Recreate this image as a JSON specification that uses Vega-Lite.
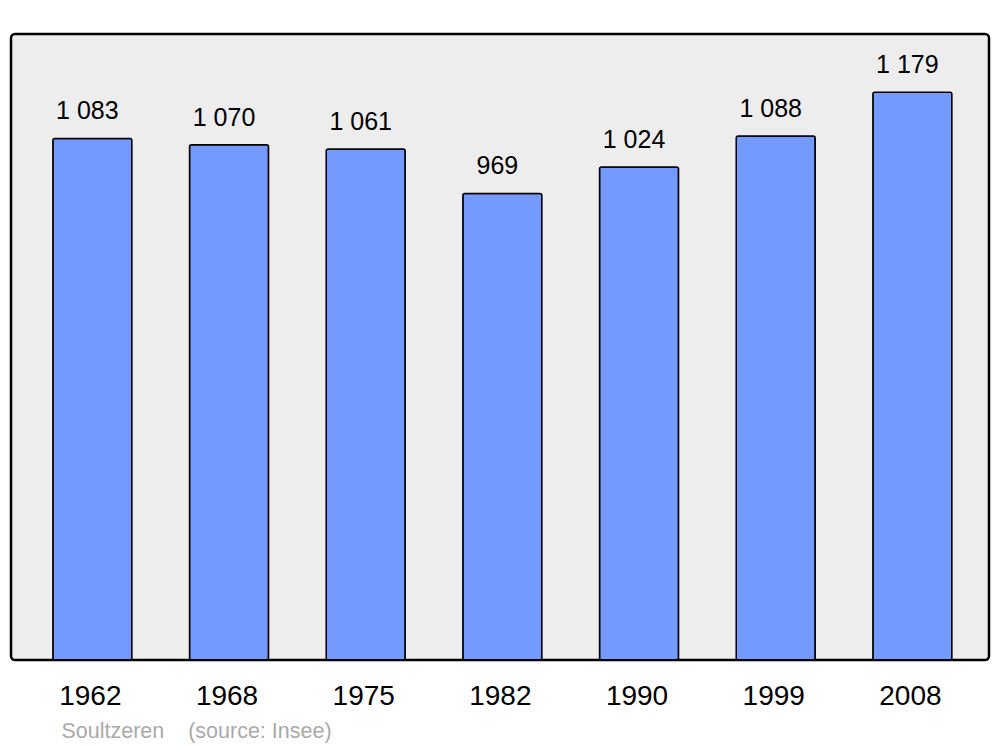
{
  "$schema": "https://vega.github.io/schema/vega-lite/v6.json",
  "width": 978,
  "height": 626,
  "autosize": {"type": "none"},
  "padding": {"left": 11, "top": 34, "right": 11, "bottom": 87},
  "background": "#ffffff",
  "config": {
    "view": {"fill": "#ededed", "stroke": "#000000", "strokeWidth": 2.5, "cornerRadius": 4},
    "font": "Liberation Sans",
    "locale": {"number": {"decimal": ",", "thousands": "\u00a0", "grouping": [3], "currency": ["", "\u00a0€"]}}
  },
  "data": {
    "values": [
      {"year": "1962", "population": 1083},
      {"year": "1968", "population": 1070},
      {"year": "1975", "population": 1061},
      {"year": "1982", "population": 969},
      {"year": "1990", "population": 1024},
      {"year": "1999", "population": 1088},
      {"year": "2008", "population": 1179}
    ]
  },
  "encoding": {
    "x": {
      "field": "year",
      "type": "ordinal",
      "scale": {"paddingInner": 0.422, "paddingOuter": 0.289, "align": 0.53},
      "axis": {
        "domain": false,
        "ticks": false,
        "labelAngle": 0,
        "labelFontSize": 28,
        "labelColor": "#000000",
        "labelPadding": 22,
        "labelOffset": -2,
        "title": "Soultzeren\u00a0\u00a0\u00a0\u00a0(source: Insee)",
        "titleFontSize": 21.5,
        "titleFontWeight": "normal",
        "titleColor": "#aaaaaa",
        "titleAnchor": "start",
        "titleAlign": "left",
        "titleBaseline": "alphabetic",
        "titleX": 50,
        "titleY": 77
      }
    },
    "y": {
      "field": "population",
      "type": "quantitative",
      "scale": {"domain": [0, 1300], "nice": false},
      "axis": null
    }
  },
  "layer": [
    {
      "mark": {"type": "bar", "fill": "#7499ff", "stroke": "#000000", "strokeWidth": 1.5, "cornerRadius": 2}
    },
    {
      "mark": {"type": "text", "fontSize": 25, "baseline": "alphabetic", "dy": -19, "dx": -5, "color": "#000000"},
      "encoding": {
        "text": {"field": "population", "type": "quantitative", "format": ",d"}
      }
    }
  ]
}
